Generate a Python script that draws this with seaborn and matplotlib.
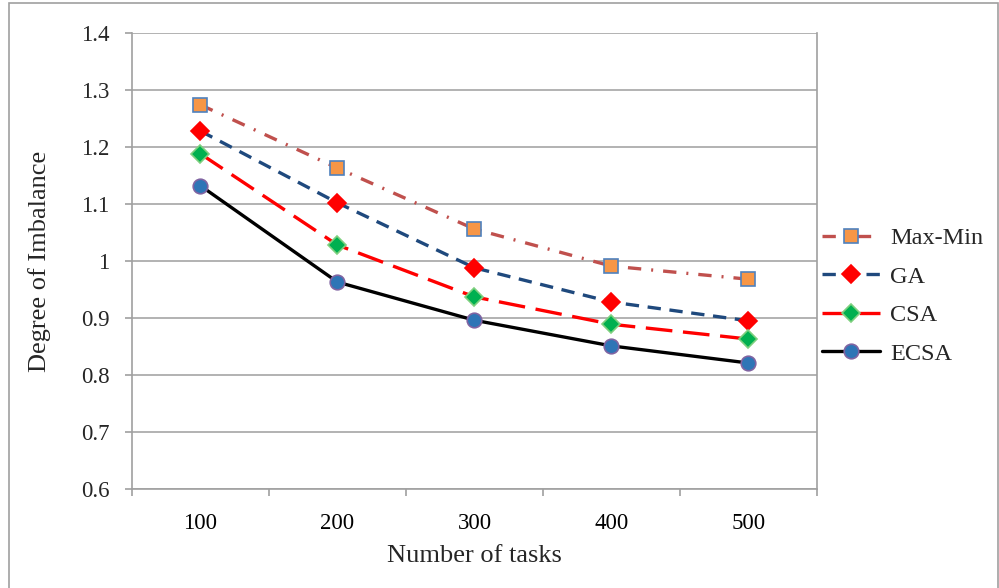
import matplotlib
matplotlib.use("Agg")
import matplotlib.pyplot as plt
import seaborn as sns
import pandas as pd
from matplotlib.patches import Rectangle

categories = ["100", "200", "300", "400", "500"]
max_min = [1.274, 1.163, 1.056, 0.991, 0.968]
ga = [1.228, 1.102, 0.988, 0.928, 0.895]
csa = [1.188, 1.028, 0.937, 0.889, 0.863]
ecsa = [1.132, 0.963, 0.896, 0.851, 0.821]
series_names = ["Max-Min", "GA", "CSA", "ECSA"]
yticks = [0.6, 0.7, 0.8, 0.9, 1.0, 1.1, 1.2, 1.3, 1.4]
ytick_labels = ["0.6", "0.7", "0.8", "0.9", "1", "1.1", "1.2", "1.3", "1.4"]

sns.set_style("white")
plt.rcParams['font.family'] = ['Liberation Serif', 'DejaVu Serif']

fig = plt.figure(figsize=(9.99, 5.88), dpi=100)
ax = fig.add_axes([0.1321, 0.1684, 0.6857, 0.7755])

styles = {
    "Max-Min": dict(color="#C0504D", dashes=(4, 3, 0.6, 3), marker="s", mfc="#F79646", mec="#4F81BD", ms=10),
    "GA": dict(color="#1F497D", dashes=(4, 2.6), marker="D", mfc="#FF0000", mec="#FF0000", ms=9),
    "CSA": dict(color="#FF0000", dashes=(8, 3.2), marker="D", mfc="#00B050", mec="#7FD07F", ms=9),
    "ECSA": dict(color="#000000", dashes=None, marker="o", mfc="#2E75B6", mec="#8064A2", ms=10.5),
}
data = {"Max-Min": max_min, "GA": ga, "CSA": csa, "ECSA": ecsa}

for name in series_names:
    st = styles[name]
    df = pd.DataFrame({"x": categories, "y": data[name]})
    sns.lineplot(x="x", y="y", data=df, ax=ax, color=st["color"], linewidth=2.4,
                 marker=st["marker"], markersize=st["ms"], markerfacecolor=st["mfc"],
                 markeredgecolor=st["mec"], markeredgewidth=1.2, label=name, sort=False)
    l = ax.lines[-1]
    if st["dashes"] is not None:
        l.set_dashes(st["dashes"])

ax.set_xlim(-0.5, 4.5)
ax.set_ylim(0.6, 1.4)
ax.set_yticks(yticks)
ax.set_yticklabels(ytick_labels)
ax.set_xticks(range(len(categories)))
ax.set_xticklabels(categories)
ax.set_xticks([i - 0.5 for i in range(len(categories) + 1)], minor=True)
ax.tick_params(axis="x", which="major", bottom=True, length=0, pad=17, labelsize=16.5, colors="#000000")
ax.tick_params(axis="x", which="minor", bottom=True, length=5, direction="out", color="#A0A0A0", width=1.2)
ax.tick_params(axis="y", which="major", left=True, length=5, direction="out", color="#A0A0A0", width=1.2, pad=11, labelsize=16.5)
ax.grid(axis="y", color="#A6A6A6", linewidth=1.2)
ax.set_axisbelow(True)
for side in ["left", "bottom", "right"]:
    ax.spines[side].set_color("#A0A0A0")
    ax.spines[side].set_linewidth(1.2)
ax.spines["top"].set_visible(False)

ax.set_xlabel("Number of tasks", fontsize=19, labelpad=8)
ax.set_ylabel("Degree of Imbalance", fontsize=19, labelpad=22)

leg = ax.legend(loc="center left", bbox_to_anchor=(1.0, 0.423), frameon=False,
                fontsize=17.5, handlelength=2.4, labelspacing=0.68, handletextpad=0.4,
                borderaxespad=0.0, borderpad=0.2)

fig.patches.append(Rectangle((0.009, -0.01), 0.99, 1.005, transform=fig.transFigure,
                             fill=False, edgecolor="#A0A0A0", linewidth=1.2))

fig.savefig("out.png", dpi=100)
